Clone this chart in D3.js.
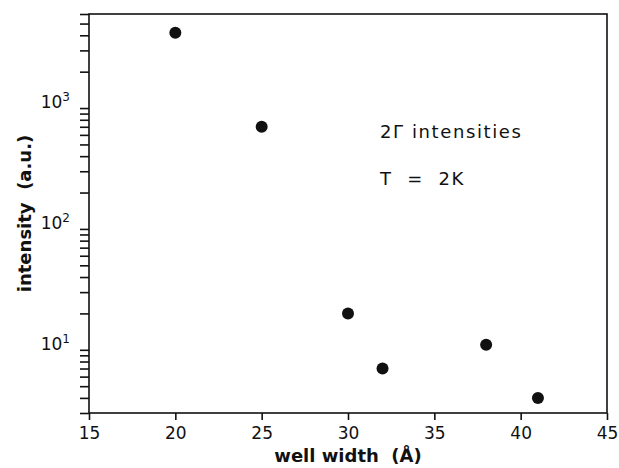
<!DOCTYPE html>
<html>
<head>
<meta charset="utf-8">
<script src="https://cdn.jsdelivr.net/npm/d3@7"></script>
<style>
  body { margin: 0; background: #fff; }
  text { font-family: "DejaVu Sans", Verdana, sans-serif; fill: #111; }
</style>
</head>
<body>
<svg id="chart" width="619" height="468"></svg>
<script>
// data
let well_width = [20, 25, 30, 32, 38, 41];
let intensity = [4200, 700, 20, 7, 11, 4];

let x_ticks = [15, 20, 25, 30, 35, 40, 45];
let y_major = [10, 100, 1000];
let notes = ["2\u0393 intensities", "T  =  2K"];

const svg = d3.select("#chart");
const margin = {left: 89, right: 12, top: 14, bottom: 55};
const W = 619, H = 468;
const font = "DejaVu Sans, Verdana, sans-serif";

let x = d3.scaleLinear()
  .domain([15, 45])
  .range([margin.left, W - margin.right]);

let y = d3.scaleLog()
  .domain([3, 6000])
  .range([H - margin.bottom, margin.top]);

// all minor ticks for the log axis
let y_ticks = [];
for (let e = 0; e <= 3; e++) {
  for (let m = 1; m <= 9; m++) {
    let v = m * Math.pow(10, e);
    if (v >= 3 && v <= 6000) y_ticks.push(v);
  }
}

// frame
svg.append("rect")
  .attr("x", x(15))
  .attr("y", y(6000))
  .attr("width", x(45) - x(15))
  .attr("height", y(3) - y(6000))
  .style("fill", "none")
  .style("stroke", "#111")
  .style("stroke-width", 1.6);

// x axis
let xAxis = svg.append("g")
  .attr("transform", `translate(0,${y(3)})`)
  .call(d3.axisBottom(x).tickValues(x_ticks).tickSize(7).tickPadding(7));
xAxis.select(".domain").remove();
xAxis.selectAll("line").style("stroke", "#111").style("stroke-width", 1.6);
xAxis.selectAll("text")
  .style("font-size", "17px")
  .style("font-family", font)
  .style("fill", "#111");

// y axis
let yAxis = svg.append("g")
  .attr("transform", `translate(${x(15)},0)`)
  .call(d3.axisLeft(y).tickValues(y_ticks).tickSize(9).tickFormat(""));
yAxis.select(".domain").remove();
yAxis.selectAll("line").style("stroke", "#111").style("stroke-width", 1.6);

// decade labels 10^n
y_major.forEach((v) => {
  let t = svg.append("text")
    .attr("x", x(15) - 19)
    .attr("y", y(v))
    .attr("text-anchor", "end")
    .style("font-size", "17px");
  t.append("tspan").text("10");
  t.append("tspan")
    .attr("dy", -7)
    .style("font-size", "12px")
    .text(Math.round(Math.log10(v)));
});

// points
svg.selectAll(".dot")
  .data(well_width)
  .enter()
  .append("circle")
  .attr("class", "dot")
  .attr("cx", (d) => x(d))
  .attr("cy", (d, i) => y(intensity[i]))
  .attr("r", 6)
  .style("fill", "#111");

// annotation
svg.append("text")
  .attr("x", 380)
  .attr("y", 138)
  .style("font-size", "18px")
  .style("letter-spacing", "1.6px")
  .text(notes[0]);
svg.append("text")
  .attr("x", 380)
  .attr("y", 185)
  .style("font-size", "18px")
  .style("letter-spacing", "1.6px")
  .attr("xml:space", "preserve")
  .text(notes[1]);

// axis titles
svg.append("text")
  .attr("x", (x(15) + x(45)) / 2)
  .attr("y", 462)
  .attr("text-anchor", "middle")
  .style("font-size", "18px")
  .style("font-weight", "bold")
  .attr("xml:space", "preserve")
  .text("well width  (\u00C5)");

svg.append("text")
  .attr("transform", `translate(31,${(y(3) + y(6000)) / 2}) rotate(-90)`)
  .attr("text-anchor", "middle")
  .style("font-size", "18px")
  .style("font-weight", "bold")
  .attr("xml:space", "preserve")
  .text("intensity  (a.u.)");
</script>
</body>
</html>
